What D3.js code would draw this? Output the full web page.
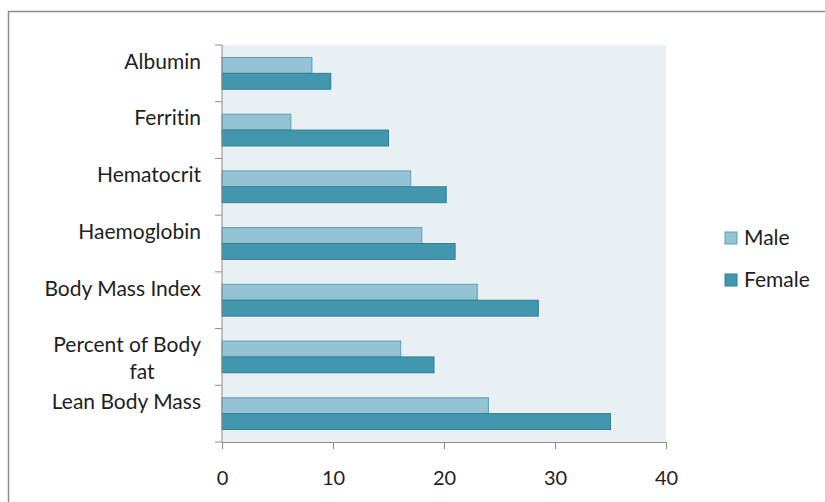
<!DOCTYPE html>
<html>
<head>
<meta charset="utf-8">
<script src="https://cdn.jsdelivr.net/npm/d3@7"></script>
<style>
body { margin: 0; background: #fff; }
svg { font-family: Lato, 'Open Sans', sans-serif; font-variant-ligatures: none; }
.axis path, .axis line { stroke: #8c8c8c; }
.axis text { fill: #1e1e1e; font-size: 20px; font-family: Lato, sans-serif; }
</style>
</head>
<body>
<div id="chart"></div>
<script>
var categories = ['Albumin', 'Ferritin', 'Hematocrit', 'Haemoglobin', 'Body Mass Index', 'Percent of Body fat', 'Lean Body Mass']
var series = ['Male', 'Female']
var maleValues = [8.1, 6.2, 17, 18, 23, 16.1, 24]
var femaleValues = [9.8, 15, 20.2, 21, 28.5, 19.1, 35]
var xTicks = [0, 10, 20, 30, 40]

var width = 825
var height = 502

var margin = {
	'top' : 45,
	'bottom' : 60,
	'left' : 222,
	'right' : 159,
}

var chartWidth = width - margin.left - margin.right
var chartHeight = height - margin.top - margin.bottom

var svg = d3.select('#chart').append('svg')
	.attr('width', width)
	.attr('height', height)

// outer frame
svg.append('path')
	.attr('d', 'M8.5,' + height + 'V11.5H' + width)
	.attr('fill', 'none')
	.attr('stroke', '#8c8c8c')
	.attr('stroke-width', 1.5)

var chartInner = svg.append('g')
	.attr('transform', 'translate(' + margin.left + ',' + margin.top + ')')

var xScale = d3.scaleLinear()
	.domain([0, 40])
	.range([0, chartWidth])

var yScale = d3.scaleBand()
	.domain(categories)
	.range([0, chartHeight])
	.paddingInner(0.44)
	.paddingOuter(0.22)

var seriesScale = d3.scaleBand()
	.domain(series)
	.range([0, yScale.bandwidth()])

var colors = { 'Male': '#93c3d4', 'Female': '#4297ae' }
var strokes = { 'Male': '#5a9fb3', 'Female': '#2f7e94' }

chartInner.append('rect')
	.attr('width', chartWidth)
	.attr('height', chartHeight)
	.attr('fill', '#e9f0f4')

var rows = categories.map(function(c, i) {
	return { cat: c, Male: maleValues[i], Female: femaleValues[i] }
})

var groups = chartInner.selectAll('.row')
	.data(rows)
	.enter().append('g')
	.attr('class', 'row')
	.attr('transform', function(d) { return 'translate(0,' + yScale(d.cat) + ')' })

groups.selectAll('rect')
	.data(function(d) { return series.map(function(s) { return { s: s, v: d[s] } }) })
	.enter().append('rect')
	.attr('x', 0)
	.attr('y', function(d) { return seriesScale(d.s) })
	.attr('width', function(d) { return xScale(d.v) })
	.attr('height', seriesScale.bandwidth())
	.attr('fill', function(d) { return colors[d.s] })
	.attr('stroke', function(d) { return strokes[d.s] })
	.attr('stroke-width', 1)

// x axis
chartInner.append('g')
	.attr('class', 'axis')
	.attr('transform', 'translate(0,' + chartHeight + ')')
	.call(d3.axisBottom(xScale).tickValues(xTicks).tickSize(7).tickSizeOuter(0).tickPadding(22))

// y axis: ticks on band boundaries
var boundaries = d3.range(categories.length + 1).map(function(i) { return i * chartHeight / categories.length })
var yAxis = chartInner.append('g').attr('class', 'axis')
yAxis.append('line')
	.attr('x1', 0).attr('x2', 0)
	.attr('y1', 0).attr('y2', chartHeight)
	.attr('stroke', '#8c8c8c')
yAxis.selectAll('.tk')
	.data(boundaries)
	.enter().append('line')
	.attr('x1', -7).attr('x2', 0)
	.attr('y1', function(d) { return d }).attr('y2', function(d) { return d })
	.attr('stroke', '#8c8c8c')

// category labels (wrapped to 2 lines like the original)
var labelLines = {
	'Percent of Body fat': ['Percent of Body', 'fat']
}
yAxis.selectAll('.lbl')
	.data(categories)
	.enter().append('text')
	.attr('text-anchor', 'end')
	.attr('fill', '#1e1e1e')
	.style('font-size', '21px')
	.each(function(c) {
		var lines = labelLines[c] || [c]
		var mid = yScale(c) + yScale.bandwidth() / 2
		var t = d3.select(this)
		if (lines.length == 1) {
			t.append('tspan').attr('x', -21).attr('y', mid - 12).attr('dy', '0.35em').text(lines[0])
		} else {
			lines.forEach(function(l, i) {
				var a = t.append('tspan').attr('y', mid - 12 + i * 27).attr('dy', '0.35em').text(l)
				if (i == 0) a.attr('x', -21)
				else a.attr('x', -80).attr('text-anchor', 'middle')
			})
		}
	})

// legend
var legend = svg.append('g')
	.attr('transform', 'translate(725,232)')
var items = legend.selectAll('g')
	.data(series)
	.enter().append('g')
	.attr('transform', function(d, i) { return 'translate(0,' + (i * 42) + ')' })
items.append('rect')
	.attr('width', 12).attr('height', 12)
	.attr('fill', function(d) { return colors[d] })
	.attr('stroke', function(d) { return strokes[d] })
items.append('text')
	.attr('x', 19).attr('y', 6).attr('dy', '0.35em')
	.style('font-size', '21px')
	.attr('fill', '#1e1e1e')
	.text(function(d) { return d })
</script>
</body>
</html>
